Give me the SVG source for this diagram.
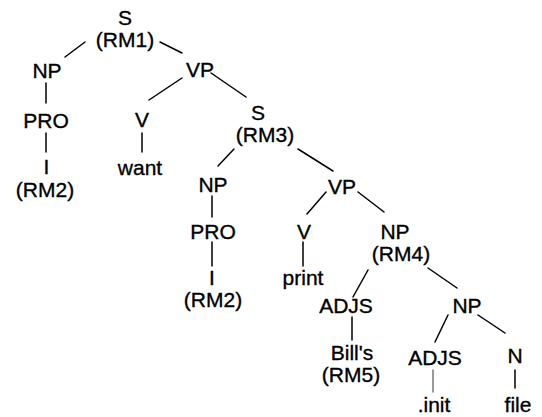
<svg xmlns="http://www.w3.org/2000/svg" width="542" height="417" viewBox="0 0 542 417">
<style>
text{font-family:"Liberation Sans",Arial,sans-serif;font-size:21px;fill:#000;stroke:#000;stroke-width:0.35;text-anchor:middle}
.e line{stroke:#000;stroke-width:1.5;stroke-linecap:round}
.e line.g{stroke:#777}
</style>
<rect width="542" height="417" fill="#fff"/>
<g class="e" id="connectors">
<line x1="65" y1="57" x2="85" y2="42"/>
<line x1="160" y1="42" x2="182" y2="53"/>
<line x1="46" y1="83" x2="46" y2="103"/>
<line x1="46" y1="133" x2="46" y2="152"/>
<line x1="182" y1="78" x2="149" y2="100"/>
<line x1="142" y1="133" x2="142" y2="152"/>
<line x1="211" y1="73" x2="246" y2="97"/>
<line x1="234" y1="149" x2="218" y2="166"/>
<line x1="298" y1="149" x2="333" y2="171"/>
<line x1="212" y1="196" x2="212" y2="217"/>
<line x1="212" y1="242" x2="212" y2="266"/>
<line x1="326" y1="192" x2="307" y2="214"/>
<line x1="303" y1="242" x2="303" y2="266"/>
<line x1="358" y1="192" x2="384" y2="212"/>
<line x1="368" y1="270" x2="353" y2="297"/>
<line x1="428" y1="268" x2="457" y2="288"/>
<line x1="352" y1="317" x2="352" y2="340"/>
<line x1="448" y1="315" x2="435" y2="342"/>
<line x1="478" y1="315" x2="505" y2="333"/>
<line class="g" x1="433" y1="370" x2="433" y2="392"/>
<line x1="515" y1="370" x2="515" y2="388"/>
</g>
<g id="n-s1"><text x="125" y="25">S</text><text x="125" y="47">(RM1)</text></g>
<g id="n-np1"><text x="47" y="78">NP</text></g>
<g id="n-pro1"><text x="46" y="128">PRO</text></g>
<g id="n-i1"><text x="46.5" y="174">I</text><text x="45" y="197">(RM2)</text></g>
<g id="n-vp1"><text x="200" y="77">VP</text></g>
<g id="n-v1"><text x="142" y="127">V</text></g>
<g id="n-want"><text x="140" y="175">want</text></g>
<g id="n-s3"><text x="258" y="120">S</text><text x="265" y="142">(RM3)</text></g>
<g id="n-np2"><text x="213" y="192">NP</text></g>
<g id="n-pro2"><text x="213" y="239">PRO</text></g>
<g id="n-i2"><text x="212" y="285">I</text><text x="213" y="307">(RM2)</text></g>
<g id="n-vp2"><text x="342" y="194">VP</text></g>
<g id="n-v2"><text x="304" y="239">V</text></g>
<g id="n-print"><text x="303" y="285">print</text></g>
<g id="n-np4"><text x="395" y="239">NP</text><text x="401" y="261">(RM4)</text></g>
<g id="n-adjs1"><text x="346" y="313">ADJS</text></g>
<g id="n-bills"><text x="352" y="360">Bill's</text><text x="351" y="382">(RM5)</text></g>
<g id="n-np5"><text x="467" y="313">NP</text></g>
<g id="n-adjs2"><text x="435" y="365">ADJS</text></g>
<g id="n-n"><text x="515" y="363">N</text></g>
<g id="n-init"><text x="434" y="412">.init</text></g>
<g id="n-file"><text x="518" y="412">file</text></g>
</svg>
